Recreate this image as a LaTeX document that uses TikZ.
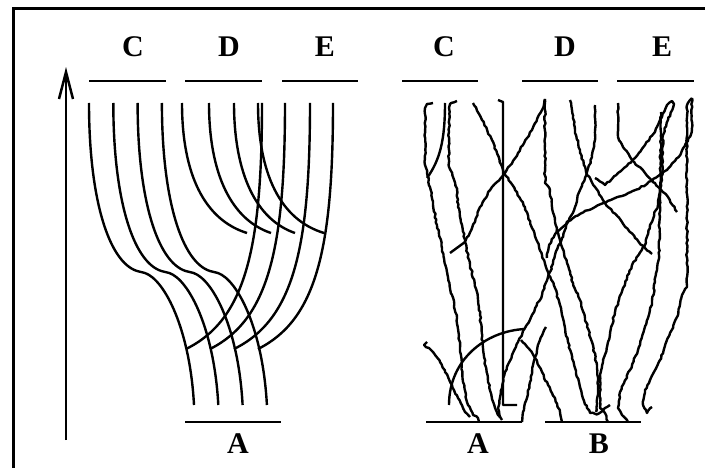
\documentclass[tikz,border=0pt]{standalone}
\usepackage{fontspec}
\setmainfont{Liberation Serif}
\usetikzlibrary{decorations.pathmorphing}
\begin{document}
\begin{tikzpicture}[x=1pt,y=-1pt,
  lab/.style={font=\fontsize{30}{30}\selectfont\bfseries, anchor=base, inner sep=0pt},
  bar/.style={line width=2pt},
  fib/.style={line width=2.4pt},
  trace/.style={line width=2.4pt, line join=round, decorate,
    decoration={random steps, segment length=3pt, amplitude=0.75pt}},
  plain/.style={line width=2.4pt, line join=round}]
\pgfmathsetseed{7}
\useasboundingbox (0,0) rectangle (705,468);
\clip (0,0) rectangle (705,468);
% frame
\draw[line width=3pt] (13,480) -- (13,9) -- (720,9);
% arrow
\coordinate (afoot) at (66,440);
\coordinate (atip) at (66,72);
\coordinate (abl) at (59,99);
\coordinate (abr) at (73,99);
\draw[line width=2.5pt] (afoot) -- (atip);
\draw[line width=2.5pt, line join=miter] (abl) -- (atip) -- (abr);
% labels
\node[lab] (lC) at (133,56.5) {C};
\node[lab] (lD) at (229,56.5) {D};
\node[lab] (lE) at (325,56.5) {E};
\node[lab] (lA) at (238,453.5) {A};
\node[lab] (rC) at (444,56.5) {C};
\node[lab] (rD) at (565,56.5) {D};
\node[lab] (rE) at (662,56.5) {E};
\node[lab] (rA) at (478,453.5) {A};
\node[lab] (rB) at (599,453.5) {B};
% bars
\draw[bar] (89,81) -- (166,81);
\draw[bar] (185,81) -- (262,81);
\draw[bar] (282,81) -- (358,81);
\draw[bar] (185,422) -- (281,422);
\draw[bar] (402,81) -- (478,81);
\draw[bar] (522,81) -- (598,81);
\draw[bar] (617,81) -- (694,81);
\draw[bar] (426,422) -- (522,422);
\draw[bar] (545,422) -- (641,422);
% left panel: C curves
\foreach \i in {0,1,2,3}{
  \pgfmathsetmacro\d{24.3*\i}
  \draw[fib] ({89+\d},103) .. controls ({89+\d},200) and ({109+\d},262) .. ({137+\d},271)
     -- ({145+\d},273) .. controls ({165+\d},280) and ({190+\d},330) .. ({194+\d},405);
}
% D curves
\foreach \s/\e in {182/247,209/271,234/295,258/324}{
  \draw[fib] (\s,103) .. controls (\s,175) and ({\s+23},220) .. (\e,233);
}
% E curves
\foreach \s/\e in {262/186,285/210,310/234,333/258}{
  \draw[fib] (\s,103) .. controls (\s,250) and ({\s-17},320) .. (\e,349);
}
% right panel traces
\draw[trace] (433,103) -- (427,104) -- (425,108) -- (425,165) -- (427,173) -- (430,187) -- (433,205) -- (437,225) -- (442,248) -- (447,272) -- (452,295) -- (457,318) -- (460,348) -- (463,382) -- (468,405) -- (473,415) -- (478,418) -- (479,422);
\draw[plain] (445,103) .. controls (445,140) and (440,160) .. (427,178);
\draw[trace] (457,101) -- (450,104) -- (449,108) -- (449,167) -- (453,177) -- (457,190) -- (458,207) -- (462,225) -- (465,242) -- (470,265) -- (477,292) -- (480,315) -- (483,348) -- (488,382) -- (495,408) -- (498,415) -- (502,420);
\draw[trace] (473,103) -- (482,120) -- (492,140) -- (503,170) -- (515,190) -- (525,207) -- (532,228) -- (542,255) -- (548,272) -- (555,288) -- (560,305) -- (562,315) -- (568,342) -- (575,368) -- (582,395) -- (587,408) -- (590,413) -- (598,414) -- (610,405);
\draw[plain] (498,100) -- (503,102) -- (503,405) -- (517,405);
\draw[trace] (545,99) -- (542,110) -- (532,130) -- (518,153) -- (505,173) -- (492,187) -- (480,207) -- (475,222) -- (465,242);
\draw[plain] (465,242) -- (450,253);
\draw[trace] (545,99) -- (545,183) -- (550,190) -- (552,207) -- (555,222) -- (560,240) -- (567,263) -- (573,283) -- (580,300) -- (585,318) -- (592,342) -- (597,365) -- (598,392) -- (596,412);
\draw[trace] (570,100) -- (572,110) -- (575,130) -- (580,150) -- (586,172) -- (595,187) -- (605,203) -- (622,222) -- (635,238) -- (645,248) -- (652,254);
\draw[trace] (595,105) -- (595,140) -- (592,157) -- (587,172) -- (580,190) -- (575,207) -- (568,222) -- (562,238) -- (555,255) -- (550,272) -- (542,295) -- (532,315) -- (525,328) -- (518,342) -- (512,355) -- (505,372) -- (502,388) -- (498,408) -- (500,418);
\draw[plain] (525,329) .. controls (485,331) and (449,360) .. (449,405);
\draw[trace] (427,342) -- (424,345) -- (432,351) -- (440,362) -- (445,372) -- (452,385) -- (458,398) -- (465,412) -- (470,417);
\draw[trace] (546,327) -- (543,333) -- (540,340) -- (537,350) -- (533,365) -- (530,382) -- (527,398) -- (523,412) -- (522,422);
\draw[trace] (521,340) -- (525,344) -- (530,350) -- (535,358) -- (542,372) -- (548,385) -- (555,398) -- (560,412) -- (562,422);
\draw[trace] (618,103) -- (618,137) -- (623,147) -- (632,160) -- (645,173) -- (655,183) -- (668,197) -- (677,212);
\draw[trace] (692,98) -- (687,105) -- (687,287) -- (682,295) -- (677,317) -- (670,333) -- (660,360) -- (650,380) -- (645,390) -- (643,405) -- (647,413) -- (652,407);
\draw[trace] (692,98) -- (692,130) .. controls (680,165) and (655,182) .. (622,196) .. controls (580,212) and (550,225) .. (547,258);
\draw[trace] (595,178) -- (605,185) -- (622,170) -- (635,158) -- (645,145) -- (655,132) -- (662,117) -- (667,105) -- (672,101) -- (674,104) -- (668,120) -- (663,135) -- (662,180) -- (658,205) -- (650,225) -- (645,245) -- (632,265) -- (623,288) -- (615,312) -- (608,342) -- (603,362) -- (600,375) -- (600,408) -- (605,413) -- (608,422);
\draw[trace] (661,112) -- (659,255) -- (655,282) -- (652,302) -- (648,318) -- (640,345) -- (630,370) -- (620,392) -- (618,408) -- (622,415) -- (628,422);
\end{tikzpicture}
\end{document}
